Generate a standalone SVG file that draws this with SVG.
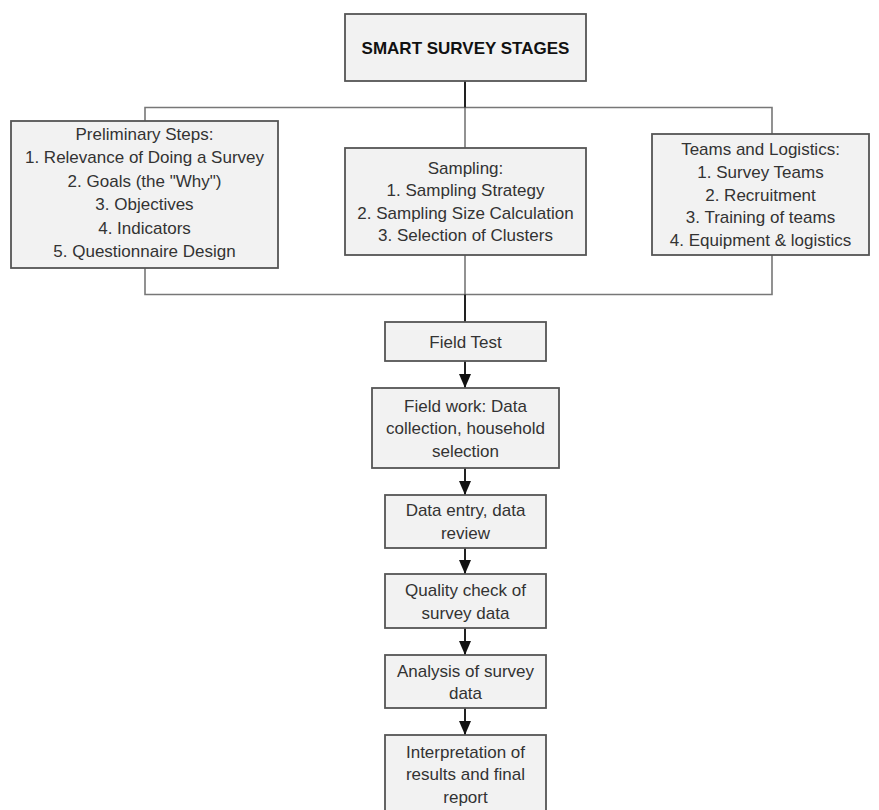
<svg xmlns="http://www.w3.org/2000/svg" width="879" height="810" viewBox="0 0 879 810">
<style>
.box{fill:#f2f2f2;stroke:#555;stroke-width:1.8}
.t{font-family:"Liberation Sans",Arial,Helvetica,sans-serif;font-size:17px;fill:#333;text-anchor:middle}
.b{font-weight:bold;fill:#111}
.g{fill:none;stroke:#777;stroke-width:1.6}
.k{fill:none;stroke:#222;stroke-width:2}
</style>
<defs>
<marker id="ah" markerWidth="14" markerHeight="12" refX="14" refY="6" orient="auto" markerUnits="userSpaceOnUse" viewBox="0 0 14 12">
<path d="M0,0 L14,6 L0,12 Z" fill="#111"/>
</marker>
</defs>
<rect width="879" height="810" fill="#fff"/>
<g id="connectors">
<polyline class="g" points="145,121 145,107.5 772,107.5 772,134"/>
<polyline class="g" points="145,268 145,294.5 772,294.5 772,255"/>
<line class="g" x1="465" y1="107.5" x2="465" y2="148"/>
<line class="g" x1="465" y1="255" x2="465" y2="294.5"/>
<line class="k" x1="465" y1="81" x2="465" y2="107.5"/>
<line class="k" x1="465" y1="294.5" x2="465" y2="322"/>
<line class="k" x1="465" y1="361" x2="465" y2="388" marker-end="url(#ah)"/>
<line class="k" x1="465" y1="468" x2="465" y2="495" marker-end="url(#ah)"/>
<line class="k" x1="465" y1="548" x2="465" y2="574" marker-end="url(#ah)"/>
<line class="k" x1="465" y1="628" x2="465" y2="655" marker-end="url(#ah)"/>
<line class="k" x1="465" y1="708" x2="465" y2="735" marker-end="url(#ah)"/>
</g>
<g id="title">
<rect class="box" x="345" y="14" width="241" height="67"/>
<text class="t b" x="465.5" y="54">SMART SURVEY STAGES</text>
</g>
<g id="preliminary">
<rect class="box" x="11" y="121" width="267" height="147"/>
<text class="t" x="144.5" y="140">Preliminary Steps:</text>
<text class="t" x="144.5" y="163.4">1. Relevance of Doing a Survey</text>
<text class="t" x="144.5" y="186.8">2. Goals (the "Why")</text>
<text class="t" x="144.5" y="210.2">3. Objectives</text>
<text class="t" x="144.5" y="233.6">4. Indicators</text>
<text class="t" x="144.5" y="257">5. Questionnaire Design</text>
</g>
<g id="sampling">
<rect class="box" x="345" y="148" width="241" height="107"/>
<text class="t" x="465.5" y="173.5">Sampling:</text>
<text class="t" x="465.5" y="196">1. Sampling Strategy</text>
<text class="t" x="465.5" y="218.5">2. Sampling Size Calculation</text>
<text class="t" x="465.5" y="241">3. Selection of Clusters</text>
</g>
<g id="teams">
<rect class="box" x="652" y="134" width="217" height="121"/>
<text class="t" x="760.5" y="154.7">Teams and Logistics:</text>
<text class="t" x="760.5" y="177.6">1. Survey Teams</text>
<text class="t" x="760.5" y="200.5">2. Recruitment</text>
<text class="t" x="760.5" y="223.4">3. Training of teams</text>
<text class="t" x="760.5" y="246.3">4. Equipment &amp; logistics</text>
</g>
<g id="fieldtest">
<rect class="box" x="385" y="322" width="161" height="39"/>
<text class="t" x="465.5" y="347.5">Field Test</text>
</g>
<g id="fieldwork">
<rect class="box" x="372" y="388" width="187" height="80"/>
<text class="t" x="465.5" y="411.5">Field work: Data</text>
<text class="t" x="465.5" y="434">collection, household</text>
<text class="t" x="465.5" y="456.5">selection</text>
</g>
<g id="dataentry">
<rect class="box" x="385" y="495" width="161" height="53"/>
<text class="t" x="465.5" y="516">Data entry, data</text>
<text class="t" x="465.5" y="538.5">review</text>
</g>
<g id="quality">
<rect class="box" x="385" y="574" width="161" height="54"/>
<text class="t" x="465.5" y="596">Quality check of</text>
<text class="t" x="465.5" y="618.5">survey data</text>
</g>
<g id="analysis">
<rect class="box" x="385" y="655" width="161" height="53"/>
<text class="t" x="465.5" y="676.5">Analysis of survey</text>
<text class="t" x="465.5" y="699">data</text>
</g>
<g id="interpretation">
<rect class="box" x="385" y="735" width="161" height="82"/>
<text class="t" x="465.5" y="757.5">Interpretation of</text>
<text class="t" x="465.5" y="780">results and final</text>
<text class="t" x="465.5" y="802.5">report</text>
</g>
</svg>
